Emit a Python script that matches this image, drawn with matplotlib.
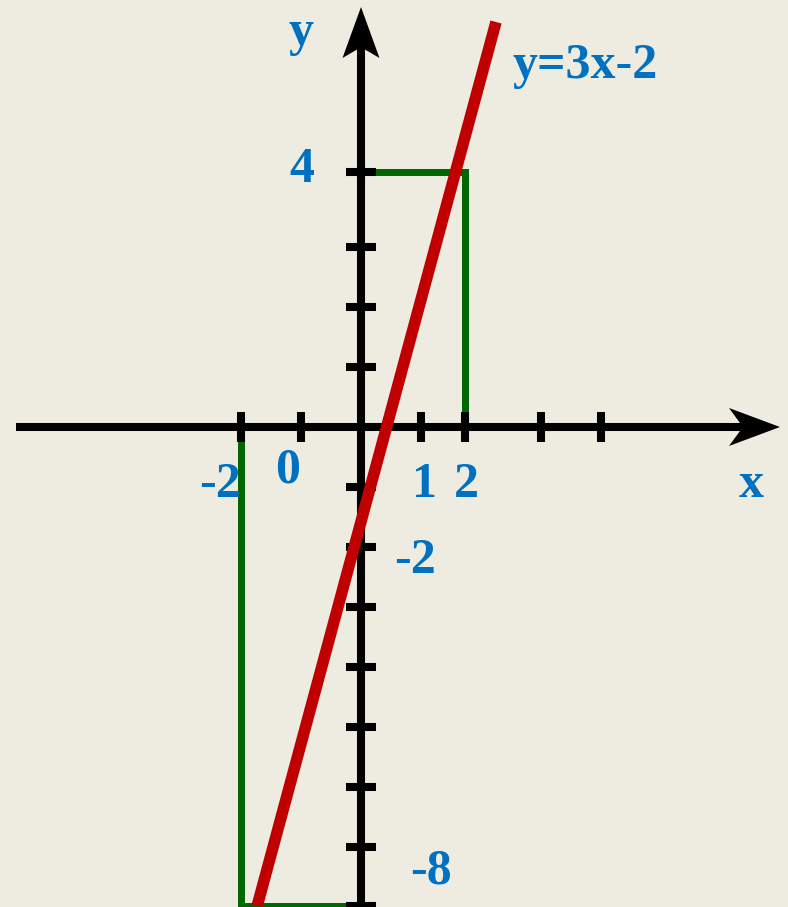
import matplotlib.pyplot as plt
from matplotlib.patches import Polygon

BG = "#EEECE1"
BLUE = "#0070C0"
RED = "#C00000"
GREEN = "#006600"

# tick marks on the axes (1 unit = one tick step)
x_ticks = [-2, -1, 1, 1.73, 3, 4]
y_ticks = [4.25, 3, 2, 1, -1, -2, -3, -4, -5, -6, -7, -7.98]

# red line y=3x-2 (end points as drawn)
red_x = [-1.73, 2.25]
red_y = [-7.98, 6.75]

# green guide lines
green_top_x = [0, 1.73, 1.73]
green_top_y = [4.25, 4.25, 0.15]
green_bot_x = [-2, -2, 0]
green_bot_y = [-0.2, -7.98, -7.98]

# labels: text, x, y (baseline), ha
labels = [
    ("-2", -2.35, -1.167, "center"),
    ("0", -1.217, -0.917, "center"),
    ("1", 1.05, -1.167, "center"),
    ("2", 1.75, -1.167, "center"),
    ("x", 6.5, -1.167, "center"),
    ("-2", 0.9, -2.433, "center"),
    ("4", -0.983, 4.083, "center"),
    ("-8", 1.167, -7.6, "center"),
    ("y", -1.0, 6.367, "center"),
    ("y=3x-2", 2.533, 5.817, "left"),
]

X_MIN, X_TIP = -5.75, 6.983
Y_MIN, Y_TIP = -8.2, 7.0
TICK = 0.25
AX_LW = 5.8

fig = plt.figure(figsize=(7.88, 9.07), dpi=100, facecolor=BG)
ax = fig.add_axes([0, 0, 1, 1])
ax.set_facecolor(BG)
ax.set_xlim(-361 / 60, 427 / 60)
ax.set_ylim(-8.0, 427 / 60)
ax.set_axis_off()

# green guides (below everything)
ax.plot(green_top_x, green_top_y, color=GREEN, lw=5.0, solid_joinstyle="miter", zorder=1)
ax.plot(green_bot_x, green_bot_y, color=GREEN, lw=5.0, solid_joinstyle="miter", zorder=1)

# axes with notched arrow heads
ax.plot([X_MIN, X_TIP - 0.6], [0, 0], color="black", lw=AX_LW, solid_capstyle="butt", zorder=2)
ax.plot([0, 0], [Y_MIN, Y_TIP - 0.6], color="black", lw=AX_LW, solid_capstyle="butt", zorder=2)
ax.add_patch(Polygon([(X_TIP, 0), (X_TIP - 0.85, 0.317), (X_TIP - 0.617, 0),
                      (X_TIP - 0.85, -0.317)], closed=True, color="black", lw=0, zorder=2))
ax.add_patch(Polygon([(0, Y_TIP), (0.308, Y_TIP - 0.85), (0, Y_TIP - 0.67),
                      (-0.308, Y_TIP - 0.85)], closed=True, color="black", lw=0, zorder=2))

ax.vlines(x_ticks, -TICK, TICK, color="black", lw=AX_LW, zorder=2)
ax.hlines(y_ticks, -TICK, TICK, color="black", lw=AX_LW, zorder=2)

# the red line
ax.plot(red_x, red_y, color=RED, lw=8.3, solid_capstyle="butt", zorder=3)

for txt, x, y, ha in labels:
    ax.text(x, y, txt, color=BLUE, fontsize=36, fontweight="bold",
            family=["Liberation Serif", "DejaVu Serif"], ha=ha, va="baseline", zorder=4)

fig.savefig("out.png", dpi=100, facecolor=BG)
